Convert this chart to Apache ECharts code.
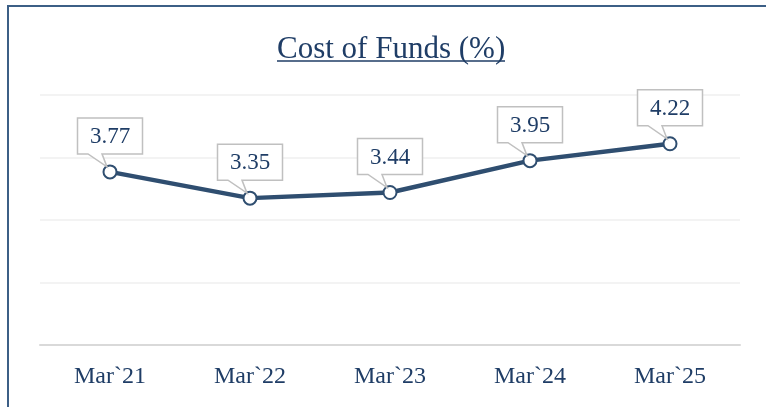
<!DOCTYPE html>
<html>
<head>
<meta charset="utf-8">
<script src="https://cdn.jsdelivr.net/npm/echarts@6/dist/echarts.min.js"></script>
<style>
  html, body { margin: 0; padding: 0; background: #fff; }
  #chart { width: 766px; height: 407px; }
</style>
</head>
<body>
<div id="chart"></div>
<script>
const categories = ['Mar`21', 'Mar`22', 'Mar`23', 'Mar`24', 'Mar`25']
const costOfFunds = [3.77, 3.35, 3.44, 3.95, 4.22]
const titleText = 'Cost of Funds (%)'

const navy = '#1f3d66'
const lineColor = '#2f4e70'
const serif = 'Liberation Serif'

const chart = echarts.init(document.getElementById('chart'))

// callout box with a little tail pointing down to the point
function renderCallout(params, api) {
  const pt = api.coord([api.value(0), api.value(1)])
  const x = pt[0], y = pt[1]
  const w = 65, h = 36, gap = 18
  const bottom = y - gap, top = bottom - h
  const left = x - w / 2, right = x + w / 2
  return {
    type: 'group',
    children: [
      {
        type: 'polygon',
        shape: {
          points: [
            [left, top], [right, top], [right, bottom],
            [x - 8, bottom], [x - 3, y - 5], [x - 22, bottom],
            [left, bottom]
          ]
        },
        style: { fill: '#fff', stroke: '#c0c0c0', lineWidth: 1.5 }
      },
      {
        type: 'text',
        style: {
          text: api.value(1).toFixed(2),
          x: x, y: (top + bottom) / 2 + 1,
          align: 'center', verticalAlign: 'middle',
          font: '23px "' + serif + '"',
          fill: navy
        }
      }
    ]
  }
}

chart.setOption({
  animation: false,
  title: {
    text: titleText,
    left: 272,
    top: 29,
    textStyle: { fontFamily: serif, fontSize: 31, fontWeight: 'normal', color: navy }
  },
  graphic: [
    {
      type: 'rect',
      shape: { x: 8, y: 6, width: 800, height: 450 },
      style: { fill: 'none', stroke: '#3c5f86', lineWidth: 2 },
      silent: true
    },
    {
      type: 'line',
      shape: { x1: 277, y1: 61, x2: 505, y2: 61 },
      style: { stroke: navy, lineWidth: 1.5 },
      silent: true
    }
  ],
  grid: { left: 40, right: 26, top: 95, bottom: 62 },
  xAxis: {
    type: 'category',
    data: categories,
    axisLine: { lineStyle: { color: '#d9d9d9', width: 2 } },
    axisTick: { show: false },
    axisLabel: { fontFamily: serif, fontSize: 24, color: navy, margin: 20 }
  },
  yAxis: {
    type: 'value',
    min: 1,
    max: 5,
    interval: 1,
    axisLabel: { show: false },
    axisLine: { show: false },
    axisTick: { show: false },
    splitLine: { lineStyle: { color: '#efefef', width: 1.5 } }
  },
  series: [
    {
      type: 'line',
      data: costOfFunds,
      lineStyle: { color: lineColor, width: 4.5 },
      symbol: 'circle',
      symbolSize: 13,
      itemStyle: { color: '#fff', borderColor: lineColor, borderWidth: 2 },
      z: 2
    },
    {
      type: 'custom',
      data: categories.map((c, i) => [i, costOfFunds[i]]),
      renderItem: renderCallout,
      z: 3
    }
  ]
})
</script>
</body>
</html>
